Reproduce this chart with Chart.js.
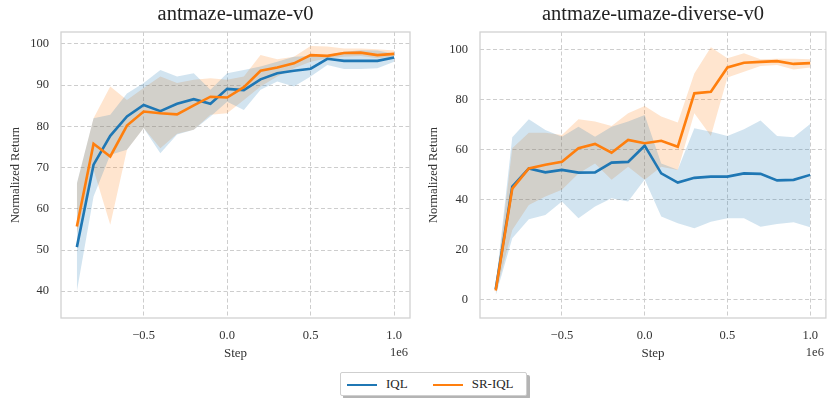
<!DOCTYPE html>
<html>
<head>
<meta charset="utf-8">
<script src="https://cdn.jsdelivr.net/npm/chart.js@4.4.0/dist/chart.umd.min.js"></script>
<style>
  body { margin: 0; background: #fff; width: 828px; height: 398px; overflow: hidden; position: relative; font-family: 'Liberation Serif', serif; }
  .box { position: absolute; top: 0; width: 414px; height: 365px; }
  #leftBox { left: 0; }
  #rightBox { left: 414px; }
  #legend {
    position: absolute; left: 340px; top: 372px; width: 185px; height: 22px;
    border: 1px solid #cfcfcf; border-radius: 2px; background: #fff;
    box-shadow: 3px 3px 0 #b4b4b4;
    font-size: 13px; color: #262626; line-height: 22px; white-space: nowrap;
  }
  #legend .key { display: inline-block; width: 30px; height: 2.5px; vertical-align: middle; margin: 0 9px 0 6px; }
</style>
</head>
<body>
<div class="box" id="leftBox"><canvas id="umazeChart"></canvas></div>
<div class="box" id="rightBox"><canvas id="diverseChart"></canvas></div>
<div id="legend"><span class="key" style="background:#1f77b4"></span>IQL<span class="key" style="background:#ff7f0e;margin-left:25px"></span>SR-IQL</div>

<script>
// training steps (x 1e6)
const steps = [-0.9, -0.8, -0.7, -0.6, -0.5, -0.4, -0.3, -0.2, -0.1, 0.0, 0.1, 0.2, 0.3, 0.4, 0.5, 0.6, 0.7, 0.8, 0.9, 1.0]
const xTicks = [-0.5, 0.0, 0.5, 1.0]

// antmaze-umaze-v0
const umazeIql     = [50.7, 70.7, 77.7, 82.4, 85.2, 83.7, 85.5, 86.6, 85.5, 89.1, 88.8, 91.4, 92.9, 93.5, 94.0, 96.4, 95.9, 95.9, 95.9, 96.7]
const umazeIqlLow  = [40.0, 63.0, 73.1, 74.3, 79.6, 73.5, 78.0, 79.2, 82.4, 86.0, 84.0, 88.9, 90.9, 89.7, 92.1, 94.9, 93.9, 93.9, 94.1, 95.7]
const umazeIqlHigh = [66.2, 82.0, 82.8, 88.0, 90.5, 93.7, 92.1, 92.9, 88.9, 92.9, 93.7, 94.5, 95.7, 96.9, 97.1, 97.3, 98.1, 98.5, 98.4, 97.6]
const umazeSr      = [55.7, 75.8, 72.7, 80.2, 83.6, 83.2, 82.9, 85.1, 87.2, 87.0, 89.5, 93.5, 94.3, 95.3, 97.3, 97.1, 97.8, 97.9, 97.3, 97.6]
const umazeSrLow   = [54.0, 69.5, 56.1, 74.3, 79.6, 74.7, 78.2, 79.2, 82.8, 83.2, 86.4, 89.7, 92.1, 94.1, 95.7, 96.5, 96.9, 97.1, 96.5, 96.9]
const umazeSrHigh  = [66.0, 82.0, 89.7, 86.4, 89.3, 92.1, 90.5, 91.3, 91.7, 91.3, 92.1, 97.3, 96.3, 96.9, 99.5, 99.4, 98.9, 98.9, 98.7, 98.4]
const umazeTicks   = [40, 50, 60, 70, 80, 90, 100]

// antmaze-umaze-diverse-v0
const diverseIql     = [4.0, 45.2, 52.5, 50.9, 51.9, 50.8, 50.9, 54.8, 55.1, 61.6, 50.5, 46.8, 48.7, 49.2, 49.2, 50.5, 50.3, 47.7, 47.9, 49.9]
const diverseIqlLow  = [1.5, 24.5, 32.1, 33.8, 39.2, 32.5, 37.2, 40.5, 39.2, 48.0, 33.2, 30.5, 28.5, 31.1, 32.5, 32.5, 29.1, 30.2, 30.9, 28.9]
const diverseIqlHigh = [5.5, 65.0, 72.2, 67.9, 65.2, 69.2, 65.2, 69.2, 71.3, 73.9, 54.5, 52.0, 68.6, 67.2, 65.5, 68.2, 71.7, 65.5, 65.0, 70.3]
const diverseSr      = [3.5, 44.4, 52.5, 54.0, 55.2, 60.6, 62.3, 58.8, 63.9, 62.6, 63.6, 61.2, 82.6, 83.2, 93.0, 94.9, 95.2, 95.5, 94.4, 94.7]
const diverseSrLow   = [2.4, 27.8, 37.8, 41.2, 43.9, 50.5, 54.5, 47.9, 53.2, 47.9, 53.2, 51.9, 74.6, 65.5, 89.0, 91.3, 93.6, 94.0, 92.2, 93.0]
const diverseSrHigh  = [4.4, 60.6, 66.8, 66.8, 65.9, 72.2, 71.3, 69.5, 74.6, 77.5, 73.3, 70.9, 90.6, 101.1, 96.7, 98.7, 96.3, 96.5, 96.5, 96.3]
const diverseTicks   = [0, 20, 40, 60, 80, 100]

const BLUE = '#1f77b4'
const ORANGE = '#ff7f0e'

Chart.defaults.font.family = "'Liberation Serif', serif"
Chart.defaults.color = '#333'
Chart.defaults.animation = false

function points(values) {
  return steps.map((s, i) => ({ x: s, y: values[i] }))
}

function formatStep(v) {
  if (v < 0) return '\u2212' + Math.abs(v).toFixed(1)
  return v.toFixed(1)
}

// box around the axes, title centred over the plot area, "1e6" offset label
const framePlugin = {
  id: 'frame',
  afterDraw(chart, args, opts) {
    const { ctx, chartArea } = chart
    ctx.save()
    ctx.strokeStyle = '#d2d2d2'
    ctx.lineWidth = 1.3
    ctx.strokeRect(chartArea.left, chartArea.top, chartArea.right - chartArea.left, chartArea.bottom - chartArea.top)

    ctx.fillStyle = '#222'
    ctx.font = "20.5px 'Liberation Serif', serif"
    ctx.textAlign = 'center'
    ctx.textBaseline = 'middle'
    ctx.fillText(opts.title, (chartArea.left + chartArea.right) / 2, 15)

    ctx.fillStyle = '#333'
    ctx.font = "12.5px 'Liberation Serif', serif"
    ctx.textAlign = 'right'
    ctx.fillText('1e6', chartArea.right - 2, chartArea.bottom + 35)
    ctx.restore()
  }
}

function makeChart(canvasId, title, iql, iqlLow, iqlHigh, sr, srLow, srHigh, yTicks, yMin, yMax, yAxisWidth, yTitlePad, rightPad) {
  const band = (data, color) => ({
    data: points(data), borderWidth: 0, pointRadius: 0, backgroundColor: color, fill: false, order: 2
  })
  const datasets = [
    { ...band(iqlHigh, 'rgba(31,119,180,0.2)'), fill: '+1' },
    band(iqlLow, 'rgba(31,119,180,0.2)'),
    { ...band(srHigh, 'rgba(255,127,14,0.2)'), fill: '+1' },
    band(srLow, 'rgba(255,127,14,0.2)'),
    { label: 'SR-IQL', data: points(sr), borderColor: ORANGE, borderWidth: 2.6, pointRadius: 0, fill: false, order: 0 },
    { label: 'IQL', data: points(iql), borderColor: BLUE, borderWidth: 2.6, pointRadius: 0, fill: false, order: 1 }
  ]

  const grid = { color: '#cdcdcd', lineWidth: 1, drawTicks: false }
  const border = { display: false, dash: [4, 2.5] }

  new Chart(document.getElementById(canvasId), {
    type: 'line',
    data: { datasets },
    plugins: [framePlugin],
    options: {
      responsive: true,
      maintainAspectRatio: false,
      layout: { padding: { left: 0, right: rightPad, top: 32, bottom: 0 } },
      plugins: {
        legend: { display: false },
        tooltip: { enabled: false },
        title: { display: false },
        frame: { title }
      },
      scales: {
        x: {
          type: 'linear', min: -0.995, max: 1.095,
          afterBuildTicks: axis => { axis.ticks = xTicks.map(v => ({ value: v })) },
          afterFit: axis => { axis.height = 47 },
          ticks: { padding: 10, font: { size: 12.5 }, callback: v => formatStep(v) },
          grid, border,
          title: { display: true, text: 'Step', font: { size: 13 }, padding: { top: 0, bottom: 4 } }
        },
        y: {
          min: yMin, max: yMax,
          afterBuildTicks: axis => { axis.ticks = yTicks.map(v => ({ value: v })) },
          afterFit: axis => { axis.width = yAxisWidth },
          ticks: { padding: 12, font: { size: 12.5 } },
          grid, border,
          title: { display: true, text: 'Normalized Return', font: { size: 12.5 }, padding: { top: yTitlePad, bottom: 0 } }
        }
      }
    }
  })
}

makeChart('umazeChart', 'antmaze-umaze-v0', umazeIql, umazeIqlLow, umazeIqlHigh, umazeSr, umazeSrLow, umazeSrHigh,
  umazeTicks, 33.5, 102.9, 61, 8, 4)
makeChart('diverseChart', 'antmaze-umaze-diverse-v0', diverseIql, diverseIqlLow, diverseIqlHigh, diverseSr, diverseSrLow, diverseSrHigh,
  diverseTicks, -7.5, 107.2, 66, 12, 0)
</script>
</body>
</html>
